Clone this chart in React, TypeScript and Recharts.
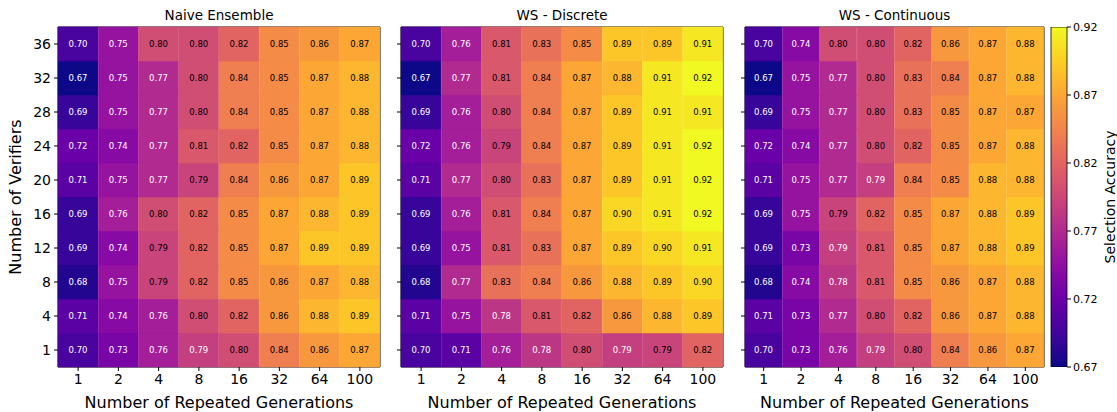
import React from 'react';
import {
  BarChart,
  Bar,
  Cell,
  XAxis,
  YAxis,
  LabelList,
  Label,
  ReferenceArea,
} from 'recharts';

const GENERATIONS = ['1', '2', '4', '8', '16', '32', '64', '100'];
// bottom to top
const VERIFIERS = [1, 4, 8, 12, 16, 20, 24, 28, 32, 36];
const TITLES = ['Naive Ensemble', 'WS - Discrete', 'WS - Continuous'];

// rows from top (36 verifiers) down to 1 verifier, columns follow GENERATIONS
const NAIVE = [
  [0.70, 0.75, 0.80, 0.80, 0.82, 0.85, 0.86, 0.87],
  [0.67, 0.75, 0.77, 0.80, 0.84, 0.85, 0.87, 0.88],
  [0.69, 0.75, 0.77, 0.80, 0.84, 0.85, 0.87, 0.88],
  [0.72, 0.74, 0.77, 0.81, 0.82, 0.85, 0.87, 0.88],
  [0.71, 0.75, 0.77, 0.792, 0.84, 0.86, 0.87, 0.89],
  [0.69, 0.76, 0.80, 0.82, 0.85, 0.87, 0.88, 0.89],
  [0.69, 0.74, 0.792, 0.82, 0.85, 0.87, 0.89, 0.89],
  [0.68, 0.75, 0.792, 0.82, 0.85, 0.86, 0.87, 0.88],
  [0.71, 0.74, 0.76, 0.80, 0.82, 0.86, 0.88, 0.89],
  [0.70, 0.73, 0.76, 0.788, 0.80, 0.84, 0.86, 0.87],
];

const DISCRETE = [
  [0.70, 0.76, 0.81, 0.83, 0.85, 0.89, 0.89, 0.91],
  [0.67, 0.77, 0.81, 0.84, 0.87, 0.88, 0.91, 0.92],
  [0.69, 0.76, 0.80, 0.84, 0.87, 0.89, 0.91, 0.91],
  [0.72, 0.76, 0.792, 0.84, 0.87, 0.89, 0.91, 0.92],
  [0.71, 0.77, 0.80, 0.83, 0.87, 0.89, 0.91, 0.92],
  [0.69, 0.76, 0.81, 0.84, 0.87, 0.90, 0.91, 0.92],
  [0.69, 0.75, 0.81, 0.83, 0.87, 0.89, 0.90, 0.91],
  [0.68, 0.77, 0.83, 0.84, 0.86, 0.88, 0.89, 0.90],
  [0.71, 0.75, 0.78, 0.81, 0.82, 0.86, 0.88, 0.89],
  [0.70, 0.71, 0.76, 0.78, 0.80, 0.788, 0.792, 0.82],
];

const CONTINUOUS = [
  [0.70, 0.74, 0.80, 0.80, 0.82, 0.86, 0.87, 0.88],
  [0.67, 0.75, 0.77, 0.80, 0.83, 0.84, 0.87, 0.88],
  [0.69, 0.75, 0.77, 0.80, 0.83, 0.85, 0.87, 0.87],
  [0.72, 0.74, 0.77, 0.80, 0.82, 0.85, 0.87, 0.88],
  [0.71, 0.75, 0.77, 0.788, 0.84, 0.85, 0.88, 0.88],
  [0.69, 0.75, 0.792, 0.82, 0.85, 0.87, 0.88, 0.89],
  [0.69, 0.73, 0.788, 0.81, 0.85, 0.87, 0.88, 0.89],
  [0.68, 0.74, 0.78, 0.81, 0.85, 0.86, 0.87, 0.88],
  [0.71, 0.73, 0.77, 0.80, 0.82, 0.86, 0.87, 0.88],
  [0.70, 0.73, 0.76, 0.788, 0.80, 0.84, 0.86, 0.87],
];

const CBAR_TICKS = [0.67, 0.72, 0.77, 0.82, 0.87, 0.92];
const VMIN = 0.67;
const VMAX = 0.92;

// matplotlib "plasma" sampled every 0.1
const PLASMA = [
  '#0d0887', '#41049d', '#6a00a8', '#8f0da4', '#b12a90', '#cc4778',
  '#e16462', '#f2844b', '#fca636', '#fcce25', '#f0f921',
];

const FONT = '"DejaVu Sans", sans-serif';

function hexToRgb(h: string) {
  return [1, 3, 5].map((i) => parseInt(h.slice(i, i + 2), 16));
}

function plasma(v: number) {
  const t = Math.min(1, Math.max(0, (v - VMIN) / (VMAX - VMIN)));
  const p = Math.min(t * 10, 9.9999);
  const i = Math.floor(p);
  const f = p - i;
  const a = hexToRgb(PLASMA[i]);
  const b = hexToRgb(PLASMA[i + 1]);
  const c = a.map((x, k) => Math.round(x + (b[k] - x) * f));
  return `rgb(${c[0]},${c[1]},${c[2]})`;
}

function buildRows(matrix: number[][]) {
  const bottomUp = [...matrix].reverse();
  return GENERATIONS.map((g, c) => {
    const row: Record<string, any> = { gen: g };
    bottomUp.forEach((r, i) => {
      row['r' + i] = 1;
      row['a' + i] = r[c];
    });
    return row;
  });
}

const renderValue = (props: any) => {
  const { x, y, width, height, value } = props;
  return (
    <text
      x={Number(x) + Number(width) / 2}
      y={Number(y) + Number(height) / 2}
      dy="0.35em"
      textAnchor="middle"
      fontSize={8.5}
      fill={value >= 0.79 ? '#000' : '#fff'}
    >
      {Number(value).toFixed(2)}
    </text>
  );
};

interface HeatmapProps {
  matrix: number[][];
  width: number;
  yWidth: number;
  first?: boolean;
}

function Heatmap({ matrix, width, yWidth, first }: HeatmapProps) {
  const rows = buildRows(matrix);
  return (
    <BarChart
      width={width}
      height={412}
      data={rows}
      margin={{ top: 27, right: 5, bottom: 0, left: 0 }}
      barCategoryGap={0}
      barGap={0}
    >
      <XAxis
        dataKey="gen"
        height={45}
        tick={{ fontSize: 14, fill: '#000' }}
        tickLine={{ stroke: '#000' }}
        axisLine={false}
        tickSize={4}
        tickMargin={3}
        interval={0}
        label={
          <Label
            content={({ viewBox }: any) => (
              <text
                x={viewBox.x + viewBox.width / 2}
                y={viewBox.y + 35.5}
                dy="0.35em"
                textAnchor="middle"
                fontSize={16}
                fill="#000"
              >
                Number of Repeated Generations
              </text>
            )}
          />
        }
      />
      <YAxis
        type="number"
        domain={[0, 10]}
        ticks={VERIFIERS.map((_, i) => i + 0.5)}
        tickFormatter={(t: number) => (first ? String(VERIFIERS[Math.floor(t)]) : '')}
        width={yWidth}
        tick={{ fontSize: 14, fill: '#000' }}
        tickLine={{ stroke: '#000' }}
        axisLine={false}
        tickSize={4}
        tickMargin={3}
        interval={0}
        label={
          first ? (
            <Label
              content={({ viewBox }: any) => {
                const cx = viewBox.x + 15;
                const cy = viewBox.y + viewBox.height / 2;
                return (
                  <text
                    x={cx}
                    y={cy}
                    dy="0.35em"
                    textAnchor="middle"
                    fontSize={16}
                    fill="#000"
                    transform={`rotate(-90, ${cx}, ${cy})`}
                  >
                    Number of Verifiers
                  </text>
                );
              }}
            />
          ) : undefined
        }
      />
      {VERIFIERS.map((v, i) => (
        <Bar key={v} dataKey={'r' + i} stackId="s" isAnimationActive={false}>
          {rows.map((row, c) => (
            <Cell
              key={c}
              fill={plasma(row['a' + i])}
              stroke={plasma(row['a' + i])}
              strokeWidth={0.5}
            />
          ))}
          <LabelList dataKey={'a' + i} content={renderValue} />
        </Bar>
      ))}
      <ReferenceArea
        x1={GENERATIONS[0]}
        x2={GENERATIONS[GENERATIONS.length - 1]}
        y1={0}
        y2={10}
        fill="none"
        fillOpacity={0}
        stroke="#000"
        strokeWidth={1}
      />
    </BarChart>
  );
}

const CBAR_DATA = [{ name: 'cbar', top: VMAX }];

function Colorbar() {
  return (
    <BarChart
      width={72}
      height={412}
      data={CBAR_DATA}
      margin={{ top: 27, right: 0, bottom: 45, left: 6 }}
      barCategoryGap={0}
    >
      <defs>
        <linearGradient id="plasmaGrad" x1="0" y1="1" x2="0" y2="0">
          {PLASMA.map((c, i) => (
            <stop key={i} offset={i / 10} stopColor={c} />
          ))}
        </linearGradient>
      </defs>
      <XAxis dataKey="name" hide />
      <YAxis
        orientation="right"
        type="number"
        domain={[VMIN, VMAX]}
        allowDataOverflow
        ticks={CBAR_TICKS}
        interval={0}
        width={50}
        tickFormatter={(t: number) => t.toFixed(2)}
        tick={{ fontSize: 11, fill: '#000' }}
        tickLine={{ stroke: '#000' }}
        axisLine={false}
        tickSize={4}
        tickMargin={2}
        label={
          <Label
            content={({ viewBox }: any) => {
              const cx = viewBox.x + 43;
              const cy = viewBox.y + viewBox.height / 2;
              return (
                <text
                  x={cx}
                  y={cy}
                  dy="0.35em"
                  textAnchor="middle"
                  fontSize={14}
                  fill="#000"
                  transform={`rotate(-90, ${cx}, ${cy})`}
                >
                  Selection Accuracy
                </text>
              );
            }}
          />
        }
      />
      <Bar
        dataKey="top"
        fill="url(#plasmaGrad)"
        stroke="#000"
        strokeWidth={0.8}
        isAnimationActive={false}
      />
    </BarChart>
  );
}

const titleStyle = (left: number, width: number): React.CSSProperties => ({
  position: 'absolute',
  left,
  width,
  top: 6,
  fontSize: 13.5,
  lineHeight: '18px',
  textAlign: 'center',
  color: '#000',
});

export default function App() {
  return (
    <div
      style={{
        position: 'absolute',
        left: 0,
        top: 0,
        width: 1117,
        height: 412,
        background: '#fff',
        fontFamily: FONT,
      }}
    >
      <div style={{ position: 'absolute', left: 0, top: 0 }}>
        <Heatmap matrix={NAIVE} width={385} yWidth={58} first />
      </div>
      <div style={{ position: 'absolute', left: 396, top: 0 }}>
        <Heatmap matrix={DISCRETE} width={332} yWidth={5} />
      </div>
      <div style={{ position: 'absolute', left: 740, top: 0 }}>
        <Heatmap matrix={CONTINUOUS} width={309} yWidth={5} />
      </div>
      <div style={{ position: 'absolute', left: 1045, top: 0 }}>
        <Colorbar />
      </div>
      <div style={titleStyle(58, 322)}>{TITLES[0]}</div>
      <div style={titleStyle(401, 322)}>{TITLES[1]}</div>
      <div style={titleStyle(745, 299)}>{TITLES[2]}</div>
    </div>
  );
}
